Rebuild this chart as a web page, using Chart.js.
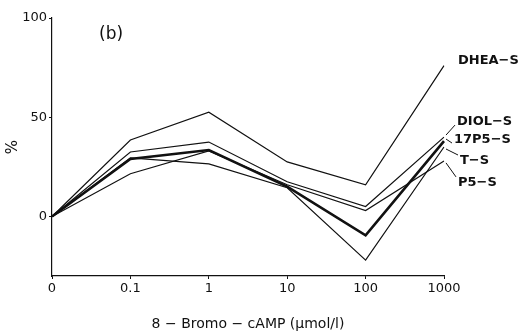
<!DOCTYPE html>
<html>
<head>
<meta charset="utf-8">
<script src="https://cdn.jsdelivr.net/npm/chart.js@4"></script>
<style>
  body { margin: 0; background: #fff; }
</style>
</head>
<body>
<canvas id="myChart" width="526" height="333"></canvas>
<script>
let doses = ['0', '0.1', '1', '10', '100', '1000'];
let seriesNames = ['DHEA−S', 'DIOL−S', '17P5−S', 'T−S', 'P5−S'];
let dheaS = [0, 38.5, 52.5, 27.5, 16, 76];
let diolS = [0, 32.5, 37.5, 17.5, 5, 40];
let p17S = [0, 29, 33.5, 15, -9.5, 38];
let tS = [0, 29.5, 26.5, 14.5, -22, 35];
let p5S = [0, 21.5, 33, 16, 3, 28];
let yTicks = [0, 50, 100];

const fontFam = '"DejaVu Sans", sans-serif';

// label offsets from the last point of each line
const labelPos = [
  { dx: 14, dy: -5, lead: false },
  { dx: 13, dy: -15, lead: true },
  { dx: 10, dy: -1, lead: true },
  { dx: 16, dy: 14, lead: true },
  { dx: 14, dy: 22, lead: true }
];

const endLabels = {
  id: 'endLabels',
  afterDatasetsDraw(chart) {
    const ctx = chart.ctx;
    ctx.save();
    ctx.fillStyle = '#111';
    ctx.strokeStyle = '#111';
    ctx.lineWidth = 1;
    ctx.font = 'bold 13px ' + fontFam;
    ctx.textBaseline = 'middle';
    chart.data.datasets.forEach((ds, i) => {
      const meta = chart.getDatasetMeta(i);
      const pt = meta.data[meta.data.length - 1];
      const p = labelPos[i];
      const lx = pt.x + p.dx;
      const ly = pt.y + p.dy;
      if (p.lead) {
        ctx.beginPath();
        ctx.moveTo(pt.x + 2, pt.y + (p.dy > 0 ? 2 : -2));
        ctx.lineTo(lx - 2, ly + (p.dy > 0 ? -6 : 3));
        ctx.stroke();
      }
      ctx.fillText(ds.label, lx, ly);
    });
    // panel letter
    const a = chart.chartArea;
    ctx.font = '17px ' + fontFam;
    ctx.fillText('(b)', a.left + 47, a.top + 17);
    ctx.restore();
  }
};

function renderChart() {
  const values = [dheaS, diolS, p17S, tS, p5S];
  const data = {
    labels: doses,
    datasets: seriesNames.map((name, i) => ({
      label: name,
      data: values[i],
      borderColor: '#111',
      borderWidth: i === 2 ? 2.6 : 1.2,
      pointRadius: 0,
      fill: false,
      tension: 0
    }))
  };

  const options = {
    responsive: false,
    animation: false,
    layout: { padding: { top: 18, right: 82, bottom: 0, left: 0 } },
    plugins: { legend: { display: false }, tooltip: { enabled: false } },
    scales: {
      x: {
        offset: false,
        grid: { drawOnChartArea: false, color: '#111', tickLength: 3 },
        border: { color: '#111', width: 1.2 },
        ticks: { color: '#111', font: { family: fontFam, size: 13 }, padding: 2, maxRotation: 0 },
        title: {
          display: true,
          text: '8 − Bromo − cAMP (μmol/l)',
          color: '#111',
          font: { family: fontFam, size: 14 },
          padding: { top: 0, bottom: 0 }
        },
        afterFit: (scale) => { scale.height = 57; }
      },
      y: {
        min: -30,
        max: 100,
        grid: { drawOnChartArea: false, color: '#111', tickLength: 3 },
        border: { color: '#111', width: 1.2 },
        ticks: { color: '#111', font: { family: fontFam, size: 13 }, padding: 2 },
        afterBuildTicks: (scale) => { scale.ticks = yTicks.map(v => ({ value: v })); },
        title: {
          display: true,
          text: '%',
          color: '#111',
          font: { family: fontFam, size: 15 },
          padding: { top: 4, bottom: 0 }
        },
        afterFit: (scale) => { scale.width = 52; }
      }
    }
  };

  const ctx = document.getElementById('myChart').getContext('2d');
  new Chart(ctx, { type: 'line', data: data, options: options, plugins: [endLabels] });
}

renderChart();
</script>
</body>
</html>
